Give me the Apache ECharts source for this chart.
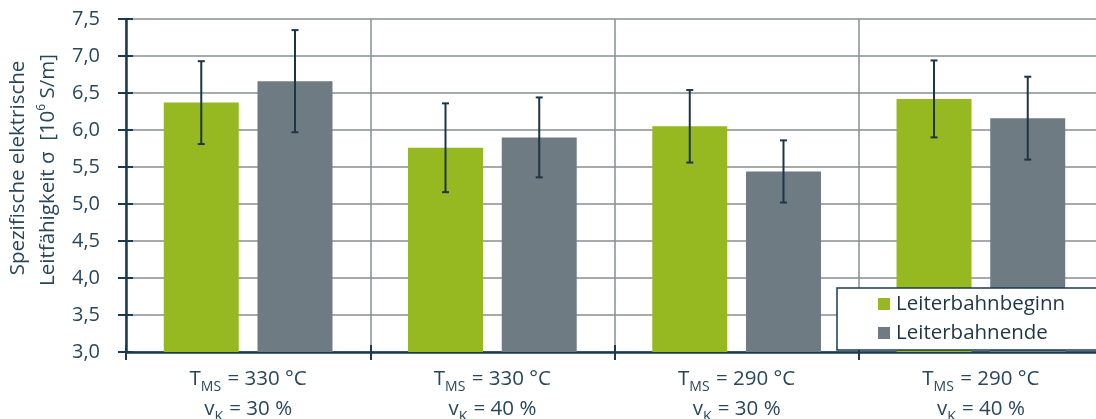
<!DOCTYPE html>
<html>
<head>
<meta charset="utf-8">
<script src="https://cdn.jsdelivr.net/npm/echarts@6/dist/echarts.min.js"></script>
<style>
  html, body { margin: 0; padding: 0; background: #fff; overflow: hidden; }
  #chart { width: 1103px; height: 419px; }
</style>
</head>
<body>
<div id="chart"></div>
<script>
// Process settings per group
const tmsValues = ['330', '330', '290', '290'];
const vkValues = ['30', '40', '30', '40'];

// Conductivity in 10^6 S/m, mean and standard deviation
const seriesNames = ['Leiterbahnbeginn', 'Leiterbahnende'];
const beginMean = [6.37, 5.76, 6.05, 6.42];
const beginErr = [0.56, 0.60, 0.49, 0.52];
const endMean = [6.66, 5.90, 5.44, 6.16];
const endErr = [0.69, 0.54, 0.42, 0.56];

// Y axis range
const yMin = 3.0, yMax = 7.5, yStep = 0.5;

const categories = tmsValues.map((t, i) => 'T{sub|MS} = ' + t + ' °C\nv{sub|K} = ' + vkValues[i] + ' %');

const FONT = 'Open Sans';
const TEXT = '#29475b';
const AXIS = '#1b3a50';
const GRID = '#858f95';
const GREEN = '#96b820';
const GREY = '#6f7b83';
const ERR = '#1c3547';

const BAR_RATIO = 0.307;  // bar width relative to category band
const BAR_GAP = 0.25;      // gap between paired bars relative to bar width

function errorRenderer(side) {
  return function (params, api) {
    const idx = api.value(0);
    const mean = api.value(1);
    const err = api.value(2);
    const band = api.size([1, 0])[0];
    const barW = band * BAR_RATIO;
    const off = side * (barW * (1 + BAR_GAP)) / 2;
    const hi = api.coord([idx, mean + err]);
    const lo = api.coord([idx, mean - err]);
    const x = hi[0] + off;
    const cap = 3.5;
    const style = { stroke: ERR, lineWidth: 2 };
    return {
      type: 'group',
      children: [
        { type: 'line', shape: { x1: x, y1: hi[1], x2: x, y2: lo[1] }, style: style },
        { type: 'line', shape: { x1: x - cap, y1: hi[1], x2: x + cap, y2: hi[1] }, style: style },
        { type: 'line', shape: { x1: x - cap, y1: lo[1], x2: x + cap, y2: lo[1] }, style: style }
      ]
    };
  };
}

const chart = echarts.init(document.getElementById('chart'), null, { renderer: 'canvas' });

const sub = { fontSize: 14, fontFamily: FONT, color: TEXT, verticalAlign: 'bottom', lineHeight: 24, padding: [0, 1, 0, 0] };

chart.setOption({
  backgroundColor: '#fff',
  animation: false,
  textStyle: { fontFamily: FONT },
  grid: { left: 126, right: 0, top: 19, bottom: 67, outerBoundsMode: 'none', containLabel: false },
  legend: {
    data: seriesNames,
    orient: 'vertical',
    left: 837,
    top: 288,
    icon: 'rect',
    itemWidth: 12,
    itemHeight: 12,
    itemGap: 7,
    padding: [5, 60, 6, 41],
    backgroundColor: '#fff',
    borderColor: AXIS,
    borderWidth: 1.5,
    borderRadius: 0,
    textStyle: { fontFamily: FONT, fontSize: 20.5, lineHeight: 22, color: '#1f3546', padding: [0, 0, 0, 1] },
    z: 10
  },
  xAxis: [
    {
      type: 'category',
      data: categories,
      axisLine: { show: true, lineStyle: { color: AXIS, width: 2.5 } },
      axisTick: { show: true, length: 8, lineStyle: { color: AXIS, width: 2 } },
      splitLine: { show: true, interval: 0, lineStyle: { color: GRID, width: 1.5 } },
      axisLabel: {
        interval: 0,
        margin: 12,
        fontFamily: FONT,
        fontSize: 20.5,
        color: TEXT,
        lineHeight: 30,
        rich: { sub: sub }
      }
    },
    {
      type: 'category',
      data: categories,
      position: 'bottom',
      axisLine: { show: false },
      axisTick: { show: true, inside: true, length: 7, lineStyle: { color: AXIS, width: 2 } },
      axisLabel: { show: false },
      splitLine: { show: false }
    }
  ],
  yAxis: [
    {
      type: 'value',
      min: yMin,
      max: yMax,
      interval: yStep,
      axisLine: { show: true, lineStyle: { color: AXIS, width: 2.5 } },
      axisTick: { show: true, length: 8, lineStyle: { color: AXIS, width: 2 } },
      splitLine: { show: true, lineStyle: { color: GRID, width: 1.5 } },
      axisLabel: {
        margin: 26,
        fontFamily: FONT,
        fontSize: 20,
        color: TEXT,
        formatter: v => v.toFixed(1).replace('.', ',')
      }
    },
    {
      type: 'value',
      min: yMin,
      max: yMax,
      interval: yStep,
      position: 'left',
      axisLine: { show: false },
      axisTick: { show: true, inside: true, length: 7, lineStyle: { color: AXIS, width: 2 } },
      axisLabel: { show: false },
      splitLine: { show: false }
    }
  ],
  graphic: [
    {
      type: 'text',
      x: 18,
      y: 168,
      rotation: Math.PI / 2,
      style: {
        text: 'Spezifische elektrische',
        fontFamily: FONT,
        fontSize: 20.5,
        fill: TEXT,
        align: 'center',
        verticalAlign: 'middle'
      }
    },
    {
      type: 'text',
      x: 48,
      y: 170,
      rotation: Math.PI / 2,
      style: {
        text: 'Leitfähigkeit σ  [10{sup|6} S/m]',
        fontFamily: FONT,
        fontSize: 20.5,
        fill: TEXT,
        align: 'center',
        verticalAlign: 'middle',
        rich: {
          sup: { fontSize: 12, fontFamily: FONT, fill: TEXT, verticalAlign: 'top', lineHeight: 24 }
        }
      }
    }
  ],
  series: [
    {
      name: seriesNames[0],
      type: 'bar',
      data: beginMean,
      barWidth: (BAR_RATIO * 100) + '%',
      barGap: (BAR_GAP * 100) + '%',
      itemStyle: { color: GREEN },
      z: 2
    },
    {
      name: seriesNames[1],
      type: 'bar',
      data: endMean,
      barWidth: (BAR_RATIO * 100) + '%',
      barGap: (BAR_GAP * 100) + '%',
      itemStyle: { color: GREY },
      z: 2
    },
    {
      name: 'err0',
      type: 'custom',
      renderItem: errorRenderer(-1),
      data: beginMean.map((m, i) => [i, m, beginErr[i]]),
      encode: { x: 0, y: 1 },
      z: 5
    },
    {
      name: 'err1',
      type: 'custom',
      renderItem: errorRenderer(1),
      data: endMean.map((m, i) => [i, m, endErr[i]]),
      encode: { x: 0, y: 1 },
      z: 5
    }
  ]
});
</script>
</body>
</html>
